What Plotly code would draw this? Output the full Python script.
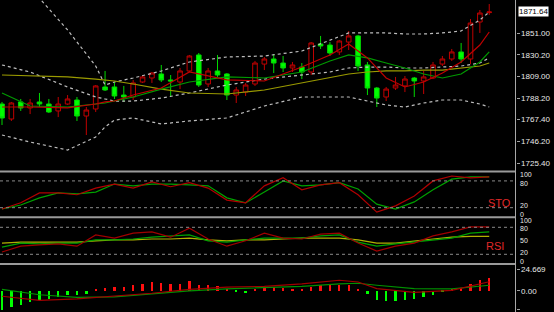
import plotly.graph_objects as go

# ---------------- data ----------------
candle_idx = list(range(1, 54))
opens = [1782.5, 1768.0, 1784.5, 1778.7, 1784.5, 1782.5, 1775.8, 1782.5, 1786.4, 1770.9,
         1777.7, 1799.0, 1799.0, 1791.2, 1789.3, 1803.8, 1807.7, 1811.6, 1805.8, 1803.8,
         1814.5, 1830.0, 1801.9, 1814.5, 1811.6, 1791.2, 1794.1, 1801.9, 1821.2, 1826.1,
         1822.2, 1817.4, 1818.3, 1813.5, 1840.6, 1839.6, 1832.9, 1842.5, 1848.4, 1820.3,
         1798.0, 1789.3, 1798.0, 1800.0, 1807.7, 1804.8, 1807.7, 1821.2, 1826.1, 1832.9,
         1826.1, 1861.9, 1871.0]
highs = [1784.5, 1784.5, 1787.4, 1787.4, 1793.2, 1787.4, 1789.3, 1791.2, 1789.3, 1779.6,
         1800.9, 1814.5, 1803.8, 1800.0, 1805.8, 1810.6, 1813.5, 1820.3, 1810.6, 1817.4,
         1830.0, 1831.9, 1817.4, 1830.0, 1812.5, 1799.0, 1802.9, 1824.2, 1828.0, 1830.9,
         1829.0, 1823.2, 1822.2, 1842.5, 1848.4, 1842.5, 1844.5, 1853.2, 1849.4, 1823.2,
         1799.0, 1799.0, 1808.7, 1809.6, 1808.7, 1814.5, 1823.2, 1829.0, 1835.8, 1841.6,
         1864.8, 1873.5, 1879.3]
lows = [1762.2, 1766.1, 1775.8, 1772.8, 1779.6, 1773.8, 1769.9, 1781.6, 1766.1, 1752.5,
        1774.8, 1795.1, 1787.4, 1784.5, 1786.4, 1802.9, 1802.9, 1803.8, 1789.3, 1797.0,
        1813.5, 1799.0, 1799.0, 1808.7, 1786.4, 1783.5, 1790.3, 1800.0, 1815.4, 1812.5,
        1813.5, 1813.5, 1806.7, 1810.6, 1835.8, 1829.0, 1830.0, 1834.8, 1814.5, 1791.2,
        1779.6, 1785.4, 1796.1, 1794.1, 1789.3, 1792.2, 1806.7, 1819.3, 1824.2, 1822.2,
        1821.2, 1851.3, 1868.7]
closes = [1769.0, 1783.5, 1778.7, 1783.5, 1782.5, 1774.8, 1782.5, 1787.4, 1770.9, 1776.7,
          1800.0, 1796.1, 1790.3, 1789.3, 1802.9, 1808.7, 1812.5, 1805.8, 1804.8, 1814.5,
          1829.0, 1800.9, 1814.5, 1810.6, 1791.2, 1796.1, 1800.9, 1822.2, 1826.1, 1822.2,
          1817.4, 1820.3, 1813.5, 1841.6, 1838.7, 1831.9, 1843.5, 1848.4, 1819.3, 1798.0,
          1788.3, 1797.0, 1800.9, 1806.7, 1804.8, 1808.7, 1820.3, 1826.1, 1832.9, 1826.1,
          1860.9, 1870.6, 1871.6]

line_idx = [1, 4, 8, 11, 12, 13, 15, 18, 21, 25, 29, 33, 36, 38, 40, 42, 44, 46, 48, 50, 52, 53]
ma_fast = [1779.6, 1779.6, 1778.7, 1782.5, 1784.5, 1785.4, 1791.2, 1798.0, 1813.5, 1805.8, 1804.8,
           1818.3, 1830.0, 1840.6, 1827.1, 1807.7, 1799.0, 1803.8, 1812.5, 1823.2, 1839.6, 1852.2]
ma_mid = [1793.2, 1780.6, 1779.6, 1782.5, 1783.5, 1785.4, 1789.3, 1797.0, 1803.8, 1808.7, 1807.7,
          1813.5, 1824.2, 1830.0, 1827.1, 1822.2, 1817.4, 1811.6, 1807.7, 1811.6, 1823.2, 1832.9]
ma_slow = [1810.6, 1809.6, 1808.7, 1806.7, 1805.8, 1804.8, 1801.9, 1797.0, 1793.2, 1792.2, 1796.1,
           1802.9, 1807.7, 1811.6, 1813.5, 1814.5, 1814.5, 1815.4, 1815.4, 1817.4, 1819.3, 1822.2]
bb_upper = [1925.8, 1894.8, 1854.2, 1819.3, 1800.9, 1803.8, 1807.7, 1814.5, 1823.2, 1828.0, 1829.0,
            1833.8, 1844.5, 1851.3, 1851.3, 1851.3, 1850.3, 1850.3, 1851.3, 1853.2, 1863.8, 1871.6]
bb_middle = [1820.3, 1813.5, 1799.0, 1789.3, 1787.4, 1785.4, 1785.4, 1788.3, 1793.2, 1800.9, 1806.7,
             1810.6, 1813.5, 1817.4, 1818.3, 1818.3, 1817.4, 1817.4, 1818.3, 1819.3, 1822.2, 1827.1]
bb_lower = [1752.5, 1745.7, 1738.0, 1750.6, 1760.3, 1767.0, 1769.0, 1763.2, 1766.1, 1769.0, 1780.6,
            1789.3, 1789.3, 1789.3, 1785.4, 1781.6, 1779.6, 1783.5, 1786.4, 1786.4, 1782.5, 1779.6]

osc_idx = list(range(1, 54, 2))
sto_k = [17, 31, 53, 53, 49, 64, 73, 64, 78, 67, 76, 64, 37, 31, 69, 87, 60, 71, 76, 49, 10, 24, 46, 80, 91, 87, 89]
sto_d = [17, 26, 42, 53, 51, 55, 73, 69, 73, 73, 71, 69, 42, 31, 55, 80, 69, 71, 76, 62, 28, 17, 33, 60, 84, 89, 89]
rsi_fast = [25, 38, 41, 43, 38, 63, 56, 67, 70, 58, 78, 54, 38, 50, 67, 56, 54, 65, 67, 45, 27, 38, 45, 61, 70, 81, 81]
rsi_mid = [36, 45, 43, 45, 45, 52, 52, 54, 58, 61, 63, 50, 47, 52, 56, 56, 56, 61, 63, 47, 38, 43, 47, 52, 56, 67, 70]
rsi_slow = [45, 47, 47, 47, 47, 50, 52, 52, 54, 54, 56, 52, 50, 52, 52, 54, 56, 56, 56, 52, 45, 45, 50, 54, 58, 60, 60]

macd_hist = [-21.2, -18.2, -16.3, -12.5, -10.6, -8.7, -6.8, -4.9, -4.9, -3.8,
             1.5, 3.8, 4.5, 4.5, 6.4, 8.3, 10.2, 9.1, 8.3, 8.3,
             11.0, 7.2, 6.4, 5.3, 1.5, -1.5, -2.3, 1.5, 3.8, 4.5,
             3.8, 2.7, 1.5, 4.5, 6.4, 6.4, 6.4, 7.2, 2.7, -3.8,
             -9.9, -11.7, -11.7, -9.9, -8.7, -6.8, -4.2, -1.5, 1.5, 3.8,
             7.6, 12.1, 15.2]
macd_idx = [1, 5, 9, 13, 17, 21, 25, 29, 33, 37, 39, 41, 45, 49, 53]
macd_line_red = [-6.0, -10.6, -8.9, -6.0, -2.6, 1.9, 4.5, 5.3, 8.2, 12.2, 10.2, 2.7, -1.5, 0.8, 10.5]
macd_line_green = [1.9, -4.3, -7.2, -6.6, -3.2, 0.2, 2.5, 4.2, 5.3, 8.2, 8.8, 6.5, 2.7, 2.5, 6.5]

price_ticks = [1851.00, 1830.20, 1809.00, 1788.20, 1767.40, 1746.20, 1725.40]
last_price = 1871.64
sto_labels = ["100", "80", "20", "0"]
rsi_labels = ["100", "80", "50", "20", "0"]
macd_ticks = [24.669, 0.0, -21.0616]
macd_tick_text = ["24.669", "0.00", "-21.0616"]

# ---------------- figure ----------------
W, H = 554, 312
XR = 515.5 / W
FONT = "Liberation Sans"
LBL = "#e8e8e8"

def py(px):
    return 1 - px / H

fig = go.Figure()

# price panel
fig.add_trace(go.Candlestick(
    x=candle_idx, open=opens, high=highs, low=lows, close=closes,
    increasing=dict(line=dict(color="#c00000", width=1), fillcolor="#000000"),
    decreasing=dict(line=dict(color="#00d800", width=1), fillcolor="#00ff00"),
    whiskerwidth=0, xaxis="x", yaxis="y", showlegend=False, hoverinfo="skip"))

dotted = dict(color="#bdbdbd", width=1.2, dash="dot")
for vals in (bb_upper, bb_middle, bb_lower):
    fig.add_trace(go.Scatter(x=line_idx, y=vals, mode="lines", line=dotted,
                             xaxis="x", yaxis="y", showlegend=False, hoverinfo="skip"))
fig.add_trace(go.Scatter(x=line_idx, y=ma_slow, mode="lines", line=dict(color="#9a9a00", width=1.2),
                         xaxis="x", yaxis="y", showlegend=False, hoverinfo="skip"))
fig.add_trace(go.Scatter(x=line_idx, y=ma_mid, mode="lines", line=dict(color="#009a00", width=1.2),
                         xaxis="x", yaxis="y", showlegend=False, hoverinfo="skip"))
fig.add_trace(go.Scatter(x=line_idx, y=ma_fast, mode="lines", line=dict(color="#c00000", width=1.2),
                         xaxis="x", yaxis="y", showlegend=False, hoverinfo="skip"))

# STO panel
fig.add_trace(go.Scatter(x=osc_idx, y=sto_d, mode="lines", line=dict(color="#00a000", width=1.2),
                         xaxis="x", yaxis="y2", showlegend=False, hoverinfo="skip"))
fig.add_trace(go.Scatter(x=osc_idx, y=sto_k, mode="lines", line=dict(color="#b00000", width=1.2),
                         xaxis="x", yaxis="y2", showlegend=False, hoverinfo="skip"))

# RSI panel
fig.add_trace(go.Scatter(x=osc_idx, y=rsi_slow, mode="lines", line=dict(color="#b0b000", width=1.2),
                         xaxis="x", yaxis="y3", showlegend=False, hoverinfo="skip"))
fig.add_trace(go.Scatter(x=osc_idx, y=rsi_mid, mode="lines", line=dict(color="#00a000", width=1.2),
                         xaxis="x", yaxis="y3", showlegend=False, hoverinfo="skip"))
fig.add_trace(go.Scatter(x=osc_idx, y=rsi_fast, mode="lines", line=dict(color="#a00000", width=1.2),
                         xaxis="x", yaxis="y3", showlegend=False, hoverinfo="skip"))

# MACD panel
bar_colors = ["#ff1010" if v >= 0 else "#00ff00" for v in macd_hist]
fig.add_trace(go.Bar(x=candle_idx, y=macd_hist, marker=dict(color=bar_colors, line=dict(width=0)),
                     width=0.25, xaxis="x", yaxis="y4", showlegend=False, hoverinfo="skip"))
fig.add_trace(go.Scatter(x=macd_idx, y=macd_line_green, mode="lines", line=dict(color="#009000", width=1.2),
                         xaxis="x", yaxis="y4", showlegend=False, hoverinfo="skip"))
fig.add_trace(go.Scatter(x=macd_idx, y=macd_line_red, mode="lines", line=dict(color="#a00000", width=1.2),
                         xaxis="x", yaxis="y4", showlegend=False, hoverinfo="skip"))

x0 = 1 - 2 / 9.37
x1 = 1 + 513.5 / 9.37
common_y = dict(showgrid=False, zeroline=False, anchor="x", side="right", fixedrange=True)
tickfont = dict(family=FONT, size=8, color=LBL)
smallfont = dict(family=FONT, size=7, color=LBL)

fig.update_layout(
    width=W, height=H, margin=dict(l=0, r=0, t=0, b=0),
    paper_bgcolor="#000000", plot_bgcolor="#000000",
    showlegend=False, bargap=0,
    xaxis=dict(domain=[0, XR], range=[x0, x1], visible=False, anchor="y4",
               rangeslider=dict(visible=False)),
    yaxis=dict(domain=[py(171), 1], range=[1883.2 - 0.968 * 171, 1883.2],
               tickvals=price_ticks, ticktext=["%.2f" % v for v in price_ticks],
               ticks="outside", ticklen=3, tickcolor="#a0a0a0", tickfont=tickfont, **common_y),
    yaxis2=dict(domain=[py(216.6), py(172)], range=[0, 100], showticklabels=False, **common_y),
    yaxis3=dict(domain=[py(263.3), py(218.3)], range=[0, 100], showticklabels=False, **common_y),
    yaxis4=dict(domain=[0, py(264)], range=[-23.9, 30.7], tickvals=macd_ticks, ticktext=macd_tick_text,
                ticks="outside", ticklen=3, tickcolor="#a0a0a0", tickfont=tickfont, **common_y),
)

shapes = []
# panel separators
for ypx in (171.5, 217.3, 264.0):
    shapes.append(dict(type="line", xref="paper", yref="paper", x0=0, x1=XR, y0=py(ypx), y1=py(ypx),
                       line=dict(color="#9a9a9a", width=2)))
# right axis line
shapes.append(dict(type="line", xref="paper", yref="paper", x0=XR, x1=XR, y0=0, y1=1,
                   line=dict(color="#a8a8a8", width=1)))
# level lines
for ax in ("y2", "y3"):
    for lv in (80, 20):
        shapes.append(dict(type="line", xref="paper", yref=ax, x0=0, x1=XR, y0=lv, y1=lv,
                           line=dict(color="#8a8a8a", width=1, dash="dot")))
fig.update_layout(shapes=shapes)

ann = []
# last price box
ann.append(dict(xref="paper", yref="y", x=518 / W, y=last_price, text="%.2f" % last_price,
                showarrow=False, xanchor="left", yanchor="middle", bgcolor="#ffffff",
                font=dict(family=FONT, size=8, color="#000000"), borderpad=0))
# STO / RSI scale labels (pixel positions)
for txt, ypx in zip(sto_labels, (174.6, 183.4, 205.3, 214.2)):
    ann.append(dict(xref="paper", yref="paper", x=519 / W, y=py(ypx), text=txt, showarrow=False,
                    xanchor="left", yanchor="middle", font=smallfont, borderpad=0))
for txt, ypx in zip(rsi_labels, (220.2, 229.0, 240.0, 252.2, 261.0)):
    ann.append(dict(xref="paper", yref="paper", x=519 / W, y=py(ypx), text=txt, showarrow=False,
                    xanchor="left", yanchor="middle", font=smallfont, borderpad=0))
ann.append(dict(xref="paper", yref="paper", x=513 / W, y=py(202.5), text="STO", showarrow=False,
                xanchor="right", yanchor="middle", font=dict(family=FONT, size=11, color="#e02828")))
ann.append(dict(xref="paper", yref="paper", x=506 / W, y=py(246), text="RSI", showarrow=False,
                xanchor="right", yanchor="middle", font=dict(family=FONT, size=11, color="#e02828")))
fig.update_layout(annotations=ann)

fig.write_html("out.html")
